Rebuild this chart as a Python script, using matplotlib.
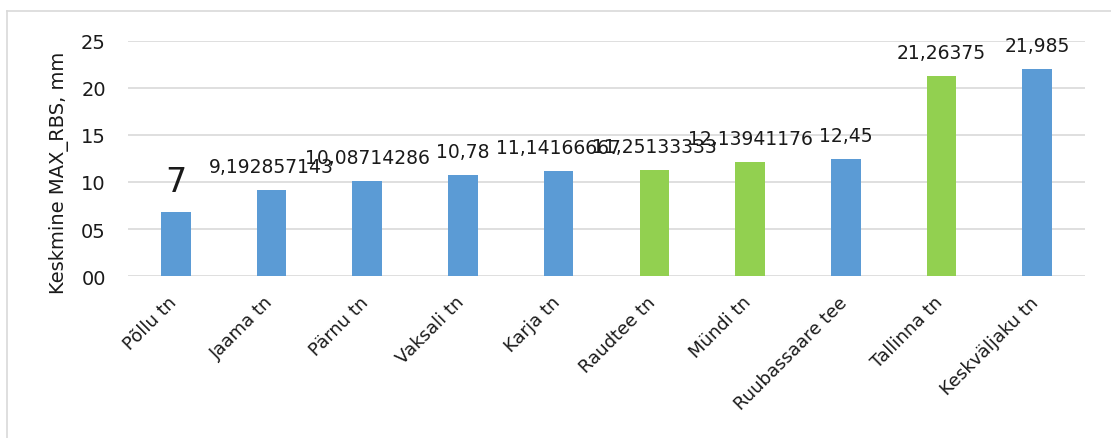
import numpy as np
import matplotlib.pyplot as plt
from matplotlib.lines import Line2D
from matplotlib.ticker import FuncFormatter
from matplotlib.transforms import ScaledTranslation

# andmed
tanavad = ["Põllu tn", "Jaama tn", "Pärnu tn", "Vaksali tn", "Karja tn",
           "Raudtee tn", "Mündi tn", "Ruubassaare tee", "Tallinna tn", "Keskväljaku tn"]
vaartused = [6.8, 9.192857143, 10.08714286, 10.78, 11.14166667,
             11.25133333, 12.13941176, 12.45, 21.26375, 21.985]
sildid = ["7", "9,192857143", "10,08714286", "10,78", "11,14166667",
          "11,25133333", "12,13941176", "12,45", "21,26375", "21,985"]
roheline = [False, False, False, False, False, True, True, False, True, False]
y_ticks = [0, 5, 10, 15, 20, 25]

sinine = "#5B9BD5"
roh = "#92D050"

plt.rcParams['font.family'] = ['DejaVu Sans']

fig = plt.figure(figsize=(11.11, 4.39), dpi=100)
ax = fig.add_axes([0.1152, 0.369, 0.8614, 0.5354])

x = np.arange(len(tanavad))
varvid = [roh if r else sinine for r in roheline]
tulbad = ax.bar(x, vaartused, width=0.31, color=varvid, zorder=3)

# väärtuste sildid (viiteskeemi järgi osaliselt kattuvad)
for i, (t, s) in enumerate(zip(tulbad, sildid)):
    suurus = 24 if i == 0 else 13.5
    ax.annotate(s, (t.get_x() + t.get_width() / 2, t.get_height()),
                xytext=(0, 10), textcoords="offset points",
                ha="center", va="bottom", fontsize=suurus, color="#1a1a1a",
                annotation_clip=False)

ax.set_xlim(-0.5, len(tanavad) - 0.5)
ax.set_ylim(0, 25)
ax.set_yticks(y_ticks)
ax.yaxis.set_major_formatter(FuncFormatter(lambda v, p: "%02d" % v))
ax.grid(axis="y", color="#D9D9D9", linewidth=1.2, zorder=0)
for s in ax.spines.values():
    s.set_visible(False)
ax.tick_params(length=0, labelsize=14, colors="#1a1a1a")
ax.tick_params(axis="y", pad=16)

ax.set_xticks(x)
ax.set_xticklabels(tanavad, rotation=45, ha="right", rotation_mode="anchor",
                   fontsize=13)
ax.tick_params(axis="x", pad=12)
nihe = ScaledTranslation(-8 / 100, 0, fig.dpi_scale_trans)
for lbl in ax.get_xticklabels():
    lbl.set_transform(lbl.get_transform() + nihe)
ax.set_ylabel("Keskmine MAX_RBS, mm", fontsize=14, color="#1a1a1a")
ax.yaxis.set_label_coords(-0.062, 0.445)

# raam
fig.add_artist(Line2D([7 / 1111, 7 / 1111], [0, 1 - 12 / 439], color="#D9D9D9", lw=1.2))
fig.add_artist(Line2D([7 / 1111, 1], [1 - 12 / 439, 1 - 12 / 439], color="#D9D9D9", lw=1.2))

fig.savefig("out.png", dpi=100)
